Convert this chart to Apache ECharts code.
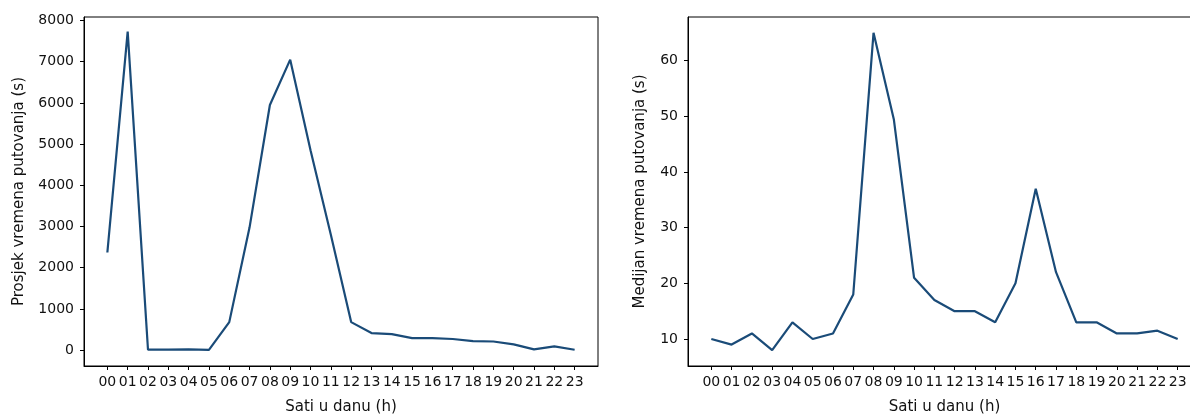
<!DOCTYPE html>
<html>
<head>
<meta charset="utf-8">
<script src="https://cdn.jsdelivr.net/npm/echarts@6/dist/echarts.min.js"></script>
<style>
html,body{margin:0;padding:0;background:#fff;}
#chart{width:1190px;height:417px;}
</style>
</head>
<body>
<div id="chart"></div>
<script>
const hours = ['00','01','02','03','04','05','06','07','08','09','10','11','12','13','14','15','16','17','18','19','20','21','22','23'];
const avgTravel = [2370, 7730, 10, 10, 20, 5, 680, 2980, 5950, 7050, 4850, 2800, 680, 415, 390, 290, 290, 270, 220, 210, 140, 20, 90, 10];
const medianTravel = [10, 9, 11, 8, 13, 10, 11, 18, 65, 49.5, 21, 17, 15, 15, 13, 20, 37, 22, 13, 13, 11, 11, 11.5, 10];
const leftTicks = [0, 1000, 2000, 3000, 4000, 5000, 6000, 7000, 8000];
const rightTicks = [10, 20, 30, 40, 50, 60];
const xTitle = 'Sati u danu (h)';
const leftTitle = 'Prosjek vremena putovanja (s)';
const rightTitle = 'Medijan vremena putovanja (s)';

const FONT = 'DejaVu Sans';
const TXT = '#111';
const LINE = '#1a4b78';
const hourIdx = hours.map((h, i) => i);

function xAxisCfg(gi) {
  return {
    type: 'value', gridIndex: gi, min: -1.15, max: 24.15,
    name: xTitle, nameLocation: 'middle', nameGap: 34,
    nameTextStyle: {fontFamily: FONT, fontSize: 15, color: TXT},
    axisLine: {show: true, onZero: false, lineStyle: {color: '#000', width: 1}},
    axisTick: {show: true, customValues: hourIdx, length: 4, lineStyle: {color: '#000'}},
    axisLabel: {customValues: hourIdx, formatter: v => hours[Math.round(v)], margin: 9,
      fontFamily: FONT, fontSize: 14, color: TXT},
    splitLine: {show: false}
  };
}
function yAxisCfg(gi, min, max, ticks, name, gap) {
  return {
    type: 'value', gridIndex: gi, min: min, max: max,
    name: name, nameLocation: 'middle', nameGap: gap,
    nameTextStyle: {fontFamily: FONT, fontSize: 15, color: TXT},
    axisLine: {show: true, onZero: false, lineStyle: {color: '#000', width: 1}},
    axisTick: {show: true, customValues: ticks, length: 4, lineStyle: {color: '#000'}},
    axisLabel: {customValues: ticks, formatter: v => String(v), margin: 10,
      fontFamily: FONT, fontSize: 14, color: TXT},
    splitLine: {show: false}
  };
}

const chart = echarts.init(document.getElementById('chart'));
chart.setOption({
  animation: false,
  backgroundColor: '#fff',
  grid: [
    {left: 84, top: 17, width: 514, height: 349, show: true, borderColor: '#000', borderWidth: 1,
      backgroundColor: 'transparent', containLabel: false, outerBoundsMode: 'none'},
    {left: 688, top: 17, width: 513, height: 349, show: true, borderColor: '#000', borderWidth: 1,
      backgroundColor: 'transparent', containLabel: false, outerBoundsMode: 'none'}
  ],
  xAxis: [xAxisCfg(0), xAxisCfg(1)],
  yAxis: [
    yAxisCfg(0, -385, 8085, leftTicks, leftTitle, 57),
    yAxisCfg(1, 5.15, 67.85, rightTicks, rightTitle, 40)
  ],
  series: [
    {type: 'line', xAxisIndex: 0, yAxisIndex: 0, data: hours.map((h, i) => [i, avgTravel[i]]),
      symbol: 'none', lineStyle: {color: LINE, width: 2.2}, itemStyle: {color: LINE}},
    {type: 'line', xAxisIndex: 1, yAxisIndex: 1, data: hours.map((h, i) => [i, medianTravel[i]]),
      symbol: 'none', lineStyle: {color: LINE, width: 2.2}, itemStyle: {color: LINE}}
  ]
});
</script>
</body>
</html>
